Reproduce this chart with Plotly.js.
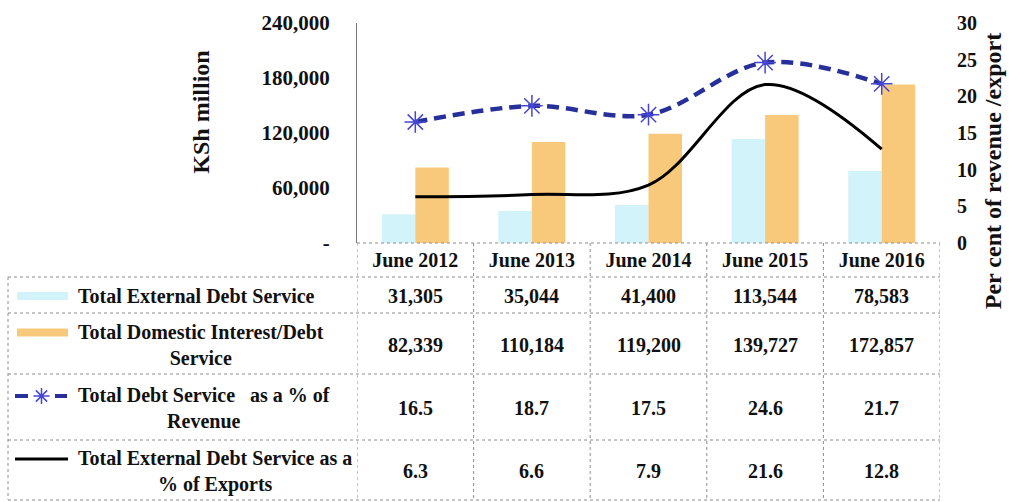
<!DOCTYPE html>
<html><head><meta charset="utf-8">
<script src="https://cdn.plot.ly/plotly-3.0.1.min.js"></script>
<style>html,body{margin:0;padding:0;background:#fff}</style>
</head><body>
<div id="chart" style="width:1009px;height:502px"></div>
<script>
// ---- data ----
const categories = ['June 2012', 'June 2013', 'June 2014', 'June 2015', 'June 2016'];
const externalDebt = [31305, 35044, 41400, 113544, 78583];
const domesticDebt = [82339, 110184, 119200, 139727, 172857];
const pctRevenue = [16.5, 18.7, 17.5, 24.6, 21.7];
const pctExports = [6.3, 6.6, 7.9, 21.6, 12.8];
const seriesNames = [
  'Total External Debt Service',
  'Total Domestic Interest/Debt<br>Service',
  'Total Debt Service   as a % of<br>Revenue',
  'Total External Debt Service as a<br>% of Exports'
];
const leftTickVals = [0, 60000, 120000, 180000, 240000];
const leftTickText = ['-', '60,000', '120,000', '180,000', '240,000'];
const rightTickVals = [0, 5, 10, 15, 20, 25, 30];
const leftTitle = 'KSh million';
const rightTitle = 'Per cent of revenue /export';

// ---- layout helpers ----
const W = 1009, H = 502;
const px = x => x / W;
const py = y => 1 - y / H;
const FONT = 'Liberation Serif, Times New Roman, serif';
const C_EXT = '#D3F3FB', C_DOM = '#F9C97B', C_REV = '#27309A', C_MARK = '#4646D6', C_EXP = '#000000';

const plotTop = 23, plotBottom = 243, y2Bottom = 319;
const y2Max = 30;
const y2Min = y2Max - (y2Bottom - plotTop) * y2Max / (plotBottom - plotTop);

const traces = [
  {type: 'bar', name: seriesNames[0], x: categories, y: externalDebt, xaxis: 'x', yaxis: 'y',
   marker: {color: C_EXT, line: {width: 0}}, hoverinfo: 'y'},
  {type: 'bar', name: seriesNames[1], x: categories, y: domesticDebt, xaxis: 'x', yaxis: 'y',
   marker: {color: C_DOM, line: {width: 0}}, hoverinfo: 'y'},
  {type: 'scatter', mode: 'lines+markers', name: seriesNames[2], x: categories, y: pctRevenue, xaxis: 'x', yaxis: 'y2',
   line: {color: C_REV, width: 4.5, dash: '12px,7px', shape: 'spline', smoothing: 1},
   marker: {symbol: 'asterisk-open', size: 18, color: C_MARK, line: {color: C_MARK, width: 1.5}}},
  {type: 'scatter', mode: 'lines', name: seriesNames[3], x: categories, y: pctExports, xaxis: 'x', yaxis: 'y2',
   line: {color: C_EXP, width: 3, shape: 'spline', smoothing: 1}}
];

// ---- table ----
const rowBounds = [277, 313, 374, 440, 500];
const rowValues = [
  externalDebt.map(v => v.toLocaleString('en-US')),
  domesticDebt.map(v => v.toLocaleString('en-US')),
  pctRevenue.map(v => v.toFixed(1)),
  pctExports.map(v => v.toFixed(1))
];
const dotted = {color: '#8c8c8c', width: 1, dash: 'dot'};
const shapes = [];
const annotations = [];
const tf = {family: FONT, size: 20, color: '#111', weight: 'bold'};

shapes.push({type: 'line', xref: 'x', yref: 'paper', x0: -0.5, x1: categories.length - 0.5,
  y0: py(plotBottom), y1: py(plotBottom), line: dotted});
rowBounds.forEach(b => shapes.push({type: 'line', xref: 'paper', yref: 'paper', x0: px(8), x1: px(940),
  y0: py(b), y1: py(b), line: dotted}));
for (let i = 0; i <= categories.length; i++) {
  shapes.push({type: 'line', xref: 'x', yref: 'paper', x0: i - 0.5, x1: i - 0.5,
    y0: py(plotBottom), y1: py(rowBounds[rowBounds.length - 1]), line: dotted});
}
shapes.push({type: 'line', xref: 'paper', yref: 'paper', x0: px(8), x1: px(8),
  y0: py(rowBounds[0]), y1: py(rowBounds[rowBounds.length - 1]), line: dotted});

for (let r = 0; r < rowValues.length; r++) {
  const cy = (rowBounds[r] + rowBounds[r + 1]) / 2 + 1;
  rowValues[r].forEach((v, i) => annotations.push({xref: 'x', yref: 'paper', x: i, y: py(cy),
    text: v, showarrow: false, font: tf, xanchor: 'center', yanchor: 'middle'}));
  annotations.push({xref: 'paper', yref: 'paper', x: px(76), y: py(cy), text: seriesNames[r],
    showarrow: false, font: tf, xanchor: 'left', yanchor: 'middle', align: 'center'});
  const twoLines = seriesNames[r].includes('<br>');
  const sy = twoLines ? cy - 12 : cy;
  if (r === 0 || r === 1) {
    shapes.push({type: 'rect', xref: 'paper', yref: 'paper', x0: px(17), x1: px(68),
      y0: py(sy - 4), y1: py(sy + 4), fillcolor: r === 0 ? C_EXT : C_DOM, line: {width: 0}});
  } else if (r === 2) {
    shapes.push({type: 'line', xref: 'paper', yref: 'paper', x0: px(15), x1: px(28), y0: py(sy), y1: py(sy),
      line: {color: C_REV, width: 4}});
    shapes.push({type: 'line', xref: 'paper', yref: 'paper', x0: px(55), x1: px(67), y0: py(sy), y1: py(sy),
      line: {color: C_REV, width: 4}});
    const cx = 41.5, rr = 8;
    let p = '';
    [[1, 0], [0, 1], [0.7, 0.7], [0.7, -0.7]].forEach(([dx, dy]) => {
      p += `M${px(cx - rr * dx)},${py(sy - rr * dy)} L${px(cx + rr * dx)},${py(sy + rr * dy)} `;
    });
    shapes.push({type: 'path', xref: 'paper', yref: 'paper', path: p, line: {color: C_MARK, width: 1.5}});
  } else {
    shapes.push({type: 'line', xref: 'paper', yref: 'paper', x0: px(15), x1: px(68), y0: py(sy), y1: py(sy),
      line: {color: C_EXP, width: 3}});
  }
}

const layout = {
  width: W, height: H,
  margin: {l: 0, r: 0, t: 0, b: 0},
  paper_bgcolor: '#fff', plot_bgcolor: 'rgba(0,0,0,0)',
  showlegend: false,
  barmode: 'group', bargap: 0.425, bargroupgap: 0,
  font: {family: FONT, color: '#111'},
  xaxis: {domain: [px(357), px(940)], type: 'category', range: [-0.5, categories.length - 0.5],
    anchor: 'y', showline: false, showgrid: false, zeroline: false, ticks: '',
    ticklabelstandoff: 3, tickfont: {family: FONT, size: 20, color: '#111', weight: 'bold'}, fixedrange: true},
  yaxis: {domain: [py(plotBottom), py(plotTop)], range: [0, 240000], anchor: 'x',
    tickvals: leftTickVals, ticktext: leftTickText, showline: true, linecolor: '#777', linewidth: 1,
    showgrid: false, zeroline: false, ticks: '', ticklabelstandoff: 22,
    tickfont: {family: FONT, size: 21, color: '#111', weight: 'bold'},
    title: {text: '&nbsp;'.repeat(7) + leftTitle, font: {family: FONT, size: 24, color: '#111', weight: 'bold'}, standoff: 45},
    fixedrange: true},
  yaxis2: {domain: [py(y2Bottom), py(plotTop)], range: [y2Min, y2Max], anchor: 'x', side: 'right',
    tickvals: rightTickVals, showline: false, showgrid: false, zeroline: false, ticks: '',
    ticklabelstandoff: 16, tickfont: {family: FONT, size: 20, color: '#111', weight: 'bold'},
    title: {text: rightTitle, font: {family: FONT, size: 24, color: '#111', weight: 'bold'}, standoff: 8},
    fixedrange: true},
  shapes: shapes,
  annotations: annotations
};

Plotly.newPlot('chart', traces, layout, {displayModeBar: false, staticPlot: true});
</script>
</body></html>
